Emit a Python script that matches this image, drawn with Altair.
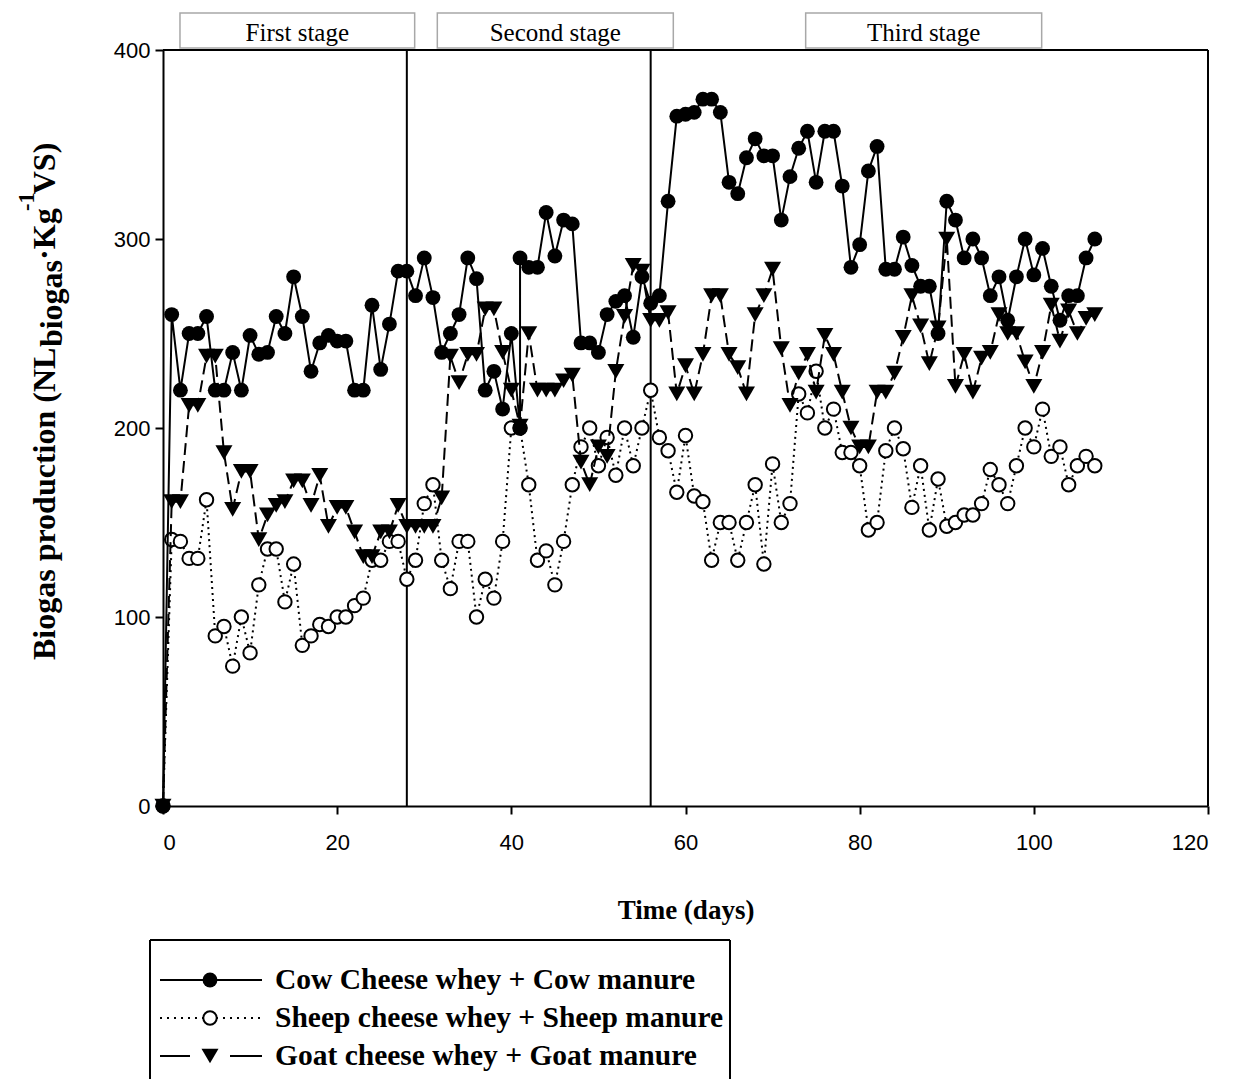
import altair as alt
import pandas as pd

# ---------------- data ----------------
cow_days = list(range(0, 42)) + [41] + list(range(42, 108))
cow_vals = [0, 260, 220, 250, 250, 259, 220, 220, 240, 220,
            249, 239, 240, 259, 250, 280, 259, 230, 245, 249,
            246, 246, 220, 220, 265, 231, 255, 283, 283, 270,
            290, 269, 240, 250, 260, 290, 279, 220, 230, 210,
            250, 200, 290, 285, 285, 314, 291, 310, 308, 245,
            245, 240, 260, 267, 270, 248, 280, 266, 270, 320,
            365, 366, 367, 374, 374, 367, 330, 324, 343, 353,
            344, 344, 310, 333, 348, 357, 330, 357, 357, 328,
            285, 297, 336, 349, 284, 284, 301, 286, 275, 275,
            250, 320, 310, 290, 300, 290, 270, 280, 257, 280,
            300, 281, 295, 275, 257, 270, 270, 290, 300]

sheep_days = list(range(0, 108))
sheep_vals = [0, 141, 140, 131, 131, 162, 90, 95, 74, 100,
              81, 117, 136, 136, 108, 128, 85, 90, 96, 95,
              100, 100, 106, 110, 130, 130, 140, 140, 120, 130,
              160, 170, 130, 115, 140, 140, 100, 120, 110, 140,
              200, 200, 170, 130, 135, 117, 140, 170, 190, 200,
              180, 195, 175, 200, 180, 200, 220, 195, 188, 166,
              196, 164, 161, 130, 150, 150, 130, 150, 170, 128,
              181, 150, 160, 218, 208, 230, 200, 210, 187, 187,
              180, 146, 150, 188, 200, 189, 158, 180, 146, 173,
              148, 150, 154, 154, 160, 178, 170, 160, 180, 200,
              190, 210, 185, 190, 170, 180, 185, 180]

goat_days = list(range(0, 108))
goat_vals = [0, 161, 161, 212, 212, 238, 238, 187, 157, 177,
             177, 141, 154, 159, 161, 172, 172, 159, 175, 148,
             158, 158, 145, 132, 132, 145, 145, 159, 148, 148,
             148, 148, 163, 238, 224, 239, 239, 263, 263, 240,
             220, 201, 250, 220, 220, 220, 225, 228, 182, 170,
             190, 185, 230, 259, 286, 283, 257, 257, 261, 218,
             233, 218, 239, 270, 270, 239, 232, 218, 260, 270,
             284, 242, 212, 229, 239, 219, 249, 239, 219, 200,
             190, 190, 219, 219, 229, 248, 270, 254, 234, 253,
             300, 222, 239, 219, 237, 240, 260, 250, 250, 235,
             222, 240, 265, 246, 262, 250, 258, 260]

series_names = ["Cow Cheese whey + Cow manure",
                "Sheep cheese whey + Sheep manure",
                "Goat cheese whey + Goat manure"]

stage_labels = ["First stage", "Second stage", "Third stage"]
stage_start = [1.95, 31.5, 73.8]
stage_end = [28.9, 58.6, 100.9]
stage_bounds = [28, 56]

x_ticks = [0, 20, 40, 60, 80, 100, 120]
y_ticks = [0, 100, 200, 300, 400]

# ---------------- layout ----------------
W, H = 1045, 756
SERIF = "Liberation Serif"
SANS = "Liberation Sans"

xs = alt.Scale(domain=[0, 120], nice=False, zero=False)
ys = alt.Scale(domain=[0, 400], nice=False)
xaxis = alt.Axis(values=x_ticks, title="Time (days)", grid=False, format="d",
                 labelFont=SANS, labelFontSize=22, labelColor="black", labelPadding=18,
                 tickSize=8, tickWidth=2, tickColor="black",
                 domainColor="black", domainWidth=2,
                 titleFont=SERIF, titleFontSize=27, titleFontWeight="bold",
                 titleColor="black", titlePadding=44)
yaxis = alt.Axis(values=y_ticks, title=None, grid=False, format="d",
                 labelFont=SANS, labelFontSize=22, labelColor="black", labelPadding=5,
                 tickSize=8, tickWidth=2, tickColor="black",
                 domainColor="black", domainWidth=2)


def series_layers(days, vals, dash, shape, size, open_marker=False):
    df = pd.DataFrame({"day": days, "val": vals, "idx": list(range(len(days)))})
    base = alt.Chart(df).encode(
        x=alt.X("day:Q", scale=xs, axis=xaxis),
        y=alt.Y("val:Q", scale=ys, axis=yaxis),
        order=alt.Order("idx:Q"),
    )
    if dash:
        line = base.mark_line(color="black", strokeWidth=2, strokeDash=dash)
    else:
        line = base.mark_line(color="black", strokeWidth=2)
    if open_marker:
        pts = base.mark_point(shape=shape, size=size, filled=True, fill="white",
                              stroke="black", strokeWidth=2, opacity=1, fillOpacity=1)
    else:
        pts = base.mark_point(shape=shape, size=size, filled=True, color="black",
                              opacity=1)
    return [line, pts]


cow_layers = series_layers(cow_days, cow_vals, None, "circle", 220)
sheep_layers = series_layers(sheep_days, sheep_vals, [2, 4], "circle", 180, open_marker=True)
goat_layers = series_layers(goat_days, goat_vals, [12, 6], "triangle-down", 290)

# stage separators
sep_df = pd.DataFrame({"d": stage_bounds})
seps = alt.Chart(sep_df).mark_rule(color="black", strokeWidth=2).encode(
    x=alt.X("d:Q", scale=xs, axis=xaxis), y=alt.value(0), y2=alt.value(H))

# top and right frame
frame_top = alt.Chart(pd.DataFrame({"a": [0]})).mark_rule(color="black", strokeWidth=2).encode(
    x=alt.value(0), x2=alt.value(W), y=alt.value(0))
frame_right = alt.Chart(pd.DataFrame({"a": [0]})).mark_rule(color="black", strokeWidth=2).encode(
    x=alt.value(W), y=alt.value(0), y2=alt.value(H))

# stage boxes
st_df = pd.DataFrame({"label": stage_labels, "s": stage_start, "e": stage_end,
                      "m": [(a + b) / 2 for a, b in zip(stage_start, stage_end)]})
st_box = alt.Chart(st_df).mark_rect(fill="white", stroke="#a8a8a8", strokeWidth=1.5).encode(
    x=alt.X("s:Q", scale=xs, axis=xaxis), x2="e:Q", y=alt.value(-37), y2=alt.value(-2))
st_txt = alt.Chart(st_df).mark_text(font=SERIF, fontSize=25, color="black",
                                    baseline="middle", align="center").encode(
    x=alt.X("m:Q", scale=xs, axis=xaxis), y=alt.value(-17), text="label:N")

# y axis title with sub/superscripts
f = 32
pieces = [("Biogas production (NL", 9.779, 0, 1.0),
          ("biogas", 2.723, 7, 1.0),
          ("·Kg", 1.528, 0, 1.0),
          ("-1", 0.75, -21, 0.7),
          ("VS)", 1.611, 0, 1.0)]
rows = []
cum = 0.0
for t, wem, shift, fac in pieces:
    rows.append({"t": t, "px": -108 + shift, "py": 610 - cum * f, "fs": f * fac})
    cum += wem * fac
yt_df = pd.DataFrame(rows)
ytitle = alt.Chart(yt_df).mark_text(font=SERIF, fontWeight="bold", angle=270, align="left",
                                    baseline="alphabetic", color="black").encode(
    x=alt.X("px:Q", scale=None), y=alt.Y("py:Q", scale=None),
    text="t:N", size=alt.Size("fs:Q", scale=None))

# legend (drawn below the plot)
leg_y = [930, 968, 1006]
seg_df = pd.DataFrame({"x1": [-3, -3, -3, 67], "x2": [99, 99, 27, 99],
                       "y": [leg_y[0], leg_y[1], leg_y[2], leg_y[2]],
                       "k": ["solid", "dot", "dash", "dash"]})
leg_line_cow = alt.Chart(seg_df[seg_df.k == "solid"]).mark_rule(color="black", strokeWidth=2).encode(
    x=alt.X("x1:Q", scale=None), x2="x2:Q", y=alt.Y("y:Q", scale=None))
leg_line_sheep = alt.Chart(seg_df[seg_df.k == "dot"]).mark_rule(color="black", strokeWidth=2,
                                                                strokeDash=[2, 5]).encode(
    x=alt.X("x1:Q", scale=None), x2="x2:Q", y=alt.Y("y:Q", scale=None))
leg_line_goat = alt.Chart(seg_df[seg_df.k == "dash"]).mark_rule(color="black", strokeWidth=2).encode(
    x=alt.X("x1:Q", scale=None), x2="x2:Q", y=alt.Y("y:Q", scale=None))
leg_pt_df = pd.DataFrame({"x": [47] * 3, "y": leg_y})
leg_pt_cow = alt.Chart(leg_pt_df.iloc[[0]]).mark_point(shape="circle", size=220, filled=True,
                                                       color="black", opacity=1).encode(
    x=alt.X("x:Q", scale=None), y=alt.Y("y:Q", scale=None))
leg_pt_sheep = alt.Chart(leg_pt_df.iloc[[1]]).mark_point(shape="circle", size=180, filled=True,
                                                         fill="white", stroke="black", strokeWidth=2,
                                                         opacity=1).encode(
    x=alt.X("x:Q", scale=None), y=alt.Y("y:Q", scale=None))
leg_pt_goat = alt.Chart(leg_pt_df.iloc[[2]]).mark_point(shape="triangle-down", size=290, filled=True,
                                                        color="black", opacity=1).encode(
    x=alt.X("x:Q", scale=None), y=alt.Y("y:Q", scale=None))
leg_txt_df = pd.DataFrame({"t": series_names, "x": [112] * 3, "y": leg_y})
leg_txt = alt.Chart(leg_txt_df).mark_text(font=SERIF, fontWeight="bold", fontSize=29.5, align="left",
                                          baseline="middle", color="black").encode(
    x=alt.X("x:Q", scale=None), y=alt.Y("y:Q", scale=None), text="t:N")
box_df = pd.DataFrame({"x1": [-13, -13, 567], "x2": [567, -13, 567],
                       "y1": [890, 890, 890], "y2": [890, 1060, 1060]})
leg_box = alt.Chart(box_df).mark_rule(color="black", strokeWidth=2).encode(
    x=alt.X("x1:Q", scale=None), x2="x2:Q", y=alt.Y("y1:Q", scale=None), y2="y2:Q")

chart = alt.layer(
    seps, frame_top, frame_right,
    *sheep_layers,
    *goat_layers,
    *cow_layers,
    st_box, st_txt,
    ytitle,
    leg_box, leg_line_cow, leg_line_sheep, leg_line_goat,
    leg_pt_cow, leg_pt_sheep, leg_pt_goat, leg_txt,
).properties(
    width=W, height=H,
    autosize=alt.AutoSizeParams(type="none"),
    padding={"left": 155, "top": 42, "right": 23, "bottom": 273},
).configure_view(
    stroke="black", strokeWidth=2
).configure(background="white")

chart.save("out.html", embed_options={"renderer": "svg", "actions": False})
